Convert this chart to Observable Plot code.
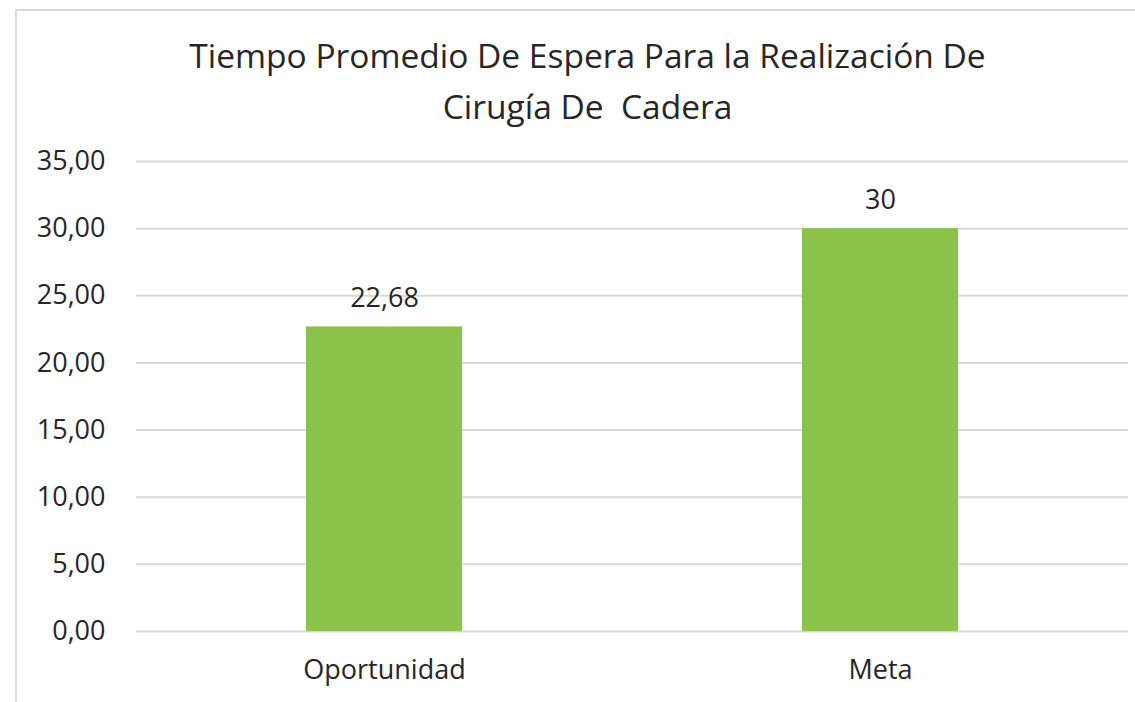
<!DOCTYPE html>
<html>
<head>
<meta charset="utf-8">
<script src="https://cdn.jsdelivr.net/npm/d3@7"></script>
<script src="https://cdn.jsdelivr.net/npm/@observablehq/plot@0.6"></script>
<style>
  html, body { margin: 0; padding: 0; background: #fff; overflow: hidden; }
  #wrap { position: relative; width: 1135px; height: 702px; }
  #frame { position: absolute; left: 15px; top: 9px; width: 1200px; height: 800px;
           border-left: 2px solid #d9d9d9; border-top: 2px solid #d9d9d9; pointer-events: none; }
  #chart { position: absolute; left: 0; top: 0; }
</style>
</head>
<body>
<div id="wrap"><div id="chart"></div><div id="frame"></div></div>
<script>
const titleLines = ["Tiempo Promedio De Espera Para la Realización De", "Cirugía De  Cadera"];
const categories = ["Oportunidad", "Meta"];
const values = [22.68, 30];
const yTicks = [0, 5, 10, 15, 20, 25, 30, 35];

const data = categories.map((c, i) => ({category: c, value: values[i]}));
const fmtTick = d => d.toFixed(2).replace(".", ",");
const fmtVal = d => Number.isInteger(d) ? String(d) : d.toFixed(2).replace(".", ",");
const font = "'Open Sans', sans-serif";
const ink = "#262626";

const plot = Plot.plot({
  width: 1135,
  height: 702,
  marginLeft: 136,
  marginRight: 7,
  marginTop: 161,
  marginBottom: 71,
  style: {fontFamily: font, fontSize: "27px", color: ink, background: "transparent"},
  x: {domain: categories, paddingInner: 0.686, paddingOuter: 0.343, label: null},
  y: {domain: [0, 35], label: null},
  marks: [
    Plot.gridY(yTicks, {stroke: "#d9d9d9", strokeOpacity: 1, strokeWidth: 2}),
    Plot.axisY({ticks: yTicks, tickFormat: fmtTick, tickSize: 0, tickPadding: 31, label: null,
      fill: ink, fontSize: 27}),
    Plot.axisX({tickSize: 0, tickPadding: 28, label: null, fill: ink, fontSize: 27}),
    Plot.barY(data, {x: "category", y: "value", fill: "#8bc34a"}),
    Plot.text(data, {x: "category", y: "value", text: d => fmtVal(d.value), lineAnchor: "bottom",
      dy: -20, fill: ink, fontSize: 27}),
    Plot.text([titleLines[0]], {frameAnchor: "top", text: d => d, lineAnchor: "bottom", dy: -94, dx: -45,
      fill: ink, fontSize: 33.5}),
    Plot.text([titleLines[1]], {frameAnchor: "top", text: d => d, lineAnchor: "bottom", dy: -43, dx: -45,
      fill: ink, fontSize: 33.5})
  ]
});
document.getElementById("chart").appendChild(plot);
</script>
</body>
</html>
